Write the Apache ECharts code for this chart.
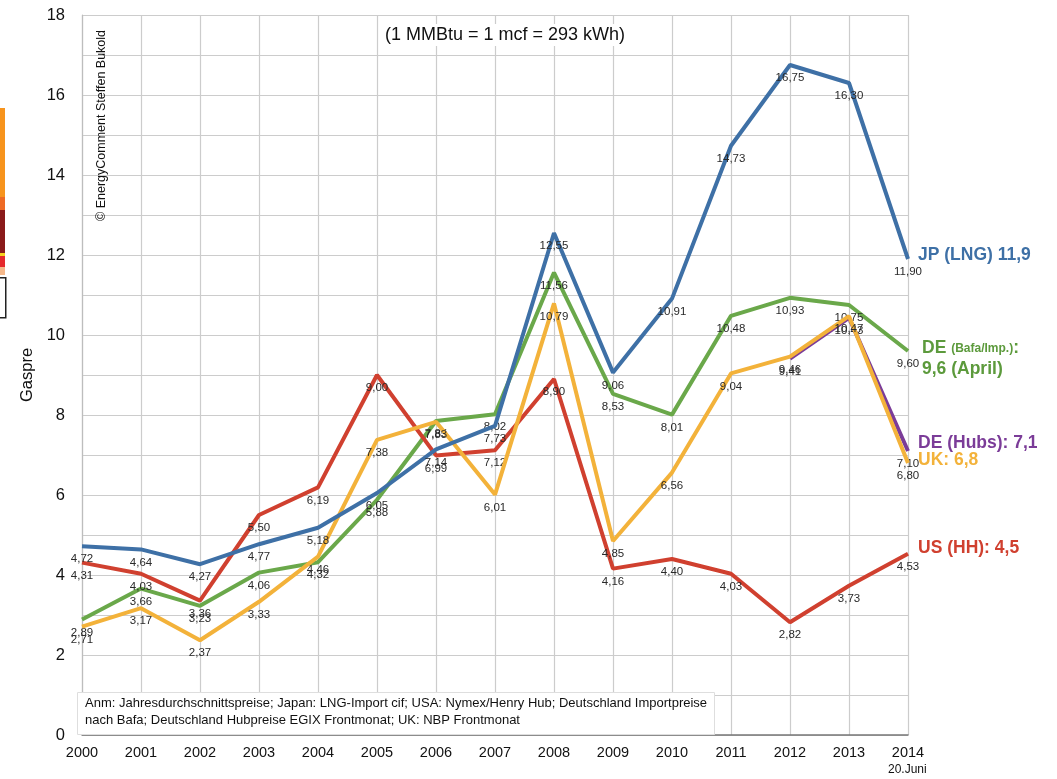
<!DOCTYPE html>
<html>
<head>
<meta charset="utf-8">
<script src="https://cdn.jsdelivr.net/npm/echarts@6/dist/echarts.min.js"></script>
<style>
html,body{margin:0;padding:0;background:#fff;}
#chart{width:1057px;height:779px;}
</style>
</head>
<body>
<div id="chart"></div>
<script>
var years = ['2000','2001','2002','2003','2004','2005','2006','2007','2008','2009','2010','2011','2012','2013','2014'];
// Gaspreise in $/MMBtu
var jpLng   = [4.72, 4.64, 4.27, 4.77, 5.18, 6.05, 7.14, 7.73, 12.55, 9.06, 10.91, 14.73, 16.75, 16.30, 11.90];
var deBafa  = [2.89, 3.66, 3.23, 4.06, 4.32, 5.88, 7.85, 8.02, 11.56, 8.53, 8.01, 10.48, 10.93, 10.75, 9.60];
var ukNbp   = [2.71, 3.17, 2.37, 3.33, 4.46, 7.38, 7.83, 6.01, 10.79, 4.85, 6.56, 9.04, 9.46, 10.47, 6.80];
var deHubs  = ['-', '-', '-', '-', '-', '-', '-', '-', '-', '-', '-', '-', 9.41, 10.43, 7.10];
var usHH    = [4.31, 4.03, 3.36, 5.50, 6.19, 9.00, 6.99, 7.12, 8.90, 4.16, 4.40, 4.03, 2.82, 3.73, 4.53];
var yTicks  = [0, 2, 4, 6, 8, 10, 12, 14, 16, 18];

var FONT = 'Liberation Sans, Arial, Helvetica, sans-serif';
var myChart = echarts.init(document.getElementById('chart'));

function komma(p){
	if(p.value==null || p.value=='-') return '';
	return Number(p.value).toFixed(2).replace('.', ',');
}

function mkSeries(name, data, color, endFmt, endOff, rich, z){
	return {
		name: name,
		type: 'line',
		data: data,
		z: z,
		symbol: 'circle',
		symbolSize: 0.1,
		lineStyle: { color: color, width: 4 },
		itemStyle: { color: color },
		label: {
			show: true,
			position: 'bottom',
			distance: 7,
			fontFamily: FONT,
			fontSize: 11.5,
			color: '#2a2a2a',
			formatter: komma
		},
		endLabel: {
			show: true,
			distance: 10,
			offset: endOff,
			fontFamily: FONT,
			fontSize: 17.5,
			fontWeight: 'bold',
			color: color,
			formatter: endFmt,
			rich: rich || {}
		},
		emphasis: { disabled: true },
		animation: false
	};
}

var option = {
	backgroundColor: '#fff',
	animation: false,
	title: {
		text: '(1 MMBtu = 1 mcf = 293 kWh)',
		left: 380,
		top: 24,
		padding: [2, 5],
		backgroundColor: '#fff',
		textStyle: { fontFamily: FONT, fontSize: 18, fontWeight: 'normal', color: '#111' }
	},
	grid: { left: 82, right: 149, top: 15, bottom: 44, show: false },
	xAxis: {
		type: 'category',
		data: years,
		boundaryGap: false,
		axisLine: { show: true, lineStyle: { color: '#777', width: 1.5 } },
		axisTick: { show: false },
		axisLabel: { fontFamily: FONT, fontSize: 14.5, color: '#111', margin: 10 },
		splitLine: { show: true, lineStyle: { color: '#cccccc', width: 1.2 } }
	},
	yAxis: {
		type: 'value',
		min: 0,
		max: 18,
		interval: 1,
		axisLine: { show: true, lineStyle: { color: '#bdbdbd', width: 1.2 } },
		axisTick: { show: false },
		axisLabel: {
			fontFamily: FONT, fontSize: 16.5, color: '#111', margin: 17,
			formatter: function(v){ return yTicks.indexOf(v) >= 0 ? String(v) : ''; }
		},
		splitLine: { show: true, lineStyle: { color: '#cccccc', width: 1.2 } },
		name: 'Gaspre',
		nameLocation: 'middle',
		nameRotate: 90,
		nameGap: 46,
		nameTextStyle: { fontFamily: FONT, fontSize: 16.5, color: '#111' }
	},
	series: [
		mkSeries('DE (Bafa/Imp.)', deBafa, '#6aa84a',
			function(){ return '{b|DE }{s|(Bafa/Imp.)}{b|:}\n{b|9,6 (April)}'; }, [4, 8],
			{ b: { fontFamily: FONT, fontSize: 17.5, fontWeight: 'bold', color: '#5c9a3c', lineHeight: 21 },
			  s: { fontFamily: FONT, fontSize: 12, fontWeight: 'bold', color: '#5c9a3c', lineHeight: 21 } }, 2),
		mkSeries('US (HH)', usHH, '#d0402f',
			function(){ return 'US (HH): 4,5'; }, [0, -6], null, 3),
		mkSeries('DE (Hubs)', deHubs, '#7b3c98',
			function(){ return 'DE (Hubs): 7,1'; }, [0, -8], null, 4),
		mkSeries('UK', ukNbp, '#f3b23a',
			function(){ return 'UK: 6,8'; }, [0, -3], null, 5),
		mkSeries('JP (LNG)', jpLng, '#3e70a6',
			function(){ return 'JP (LNG) 11,9'; }, [0, -4], null, 6)
	],
	graphic: [
		// Anmerkung
		{
			type: 'rect', left: 77, top: 692, z: 100,
			shape: { width: 637, height: 42 },
			style: { fill: '#fff', stroke: '#dedede', lineWidth: 1 }
		},
		{
			type: 'text', left: 85, top: 695, z: 101,
			style: {
				text: 'Anm: Jahresdurchschnittspreise; Japan: LNG-Import cif; USA: Nymex/Henry Hub; Deutschland Importpreise\nnach Bafa; Deutschland Hubpreise EGIX Frontmonat; UK: NBP Frontmonat',
				fontFamily: FONT, fontSize: 13, lineHeight: 17, fill: '#111'
			}
		},
		// copyright, senkrecht
		{
			type: 'text', x: 95, y: 221, rotation: Math.PI / 2, z: 101,
			style: { text: '\u00a9 EnergyComment Steffen Bukold', fontFamily: FONT, fontSize: 12.5, fill: '#111' }
		},
		{
			type: 'text', left: 888, top: 764, z: 101,
			style: { text: '20.Juni', fontFamily: FONT, fontSize: 12, fill: '#111' }
		},
		// Rest eines Nachbarbildes am linken Rand
		{ type: 'rect', left: 0, top: 108, shape: { width: 5, height: 89 }, style: { fill: '#f7941d' } },
		{ type: 'rect', left: 0, top: 197, shape: { width: 5, height: 13 }, style: { fill: '#ee6a24' } },
		{ type: 'rect', left: 0, top: 210, shape: { width: 5, height: 43 }, style: { fill: '#8a1a1a' } },
		{ type: 'rect', left: 0, top: 253, shape: { width: 5, height: 3 }, style: { fill: '#f5d21e' } },
		{ type: 'rect', left: 0, top: 256, shape: { width: 5, height: 11 }, style: { fill: '#e5282b' } },
		{ type: 'rect', left: 0, top: 267, shape: { width: 5, height: 8 }, style: { fill: '#f5b88a' } },
		{ type: 'rect', left: -2, top: 277, shape: { width: 7, height: 40 }, style: { fill: '#fff', stroke: '#222', lineWidth: 1.5 } }
	]
};

myChart.setOption(option);
</script>
</body>
</html>
